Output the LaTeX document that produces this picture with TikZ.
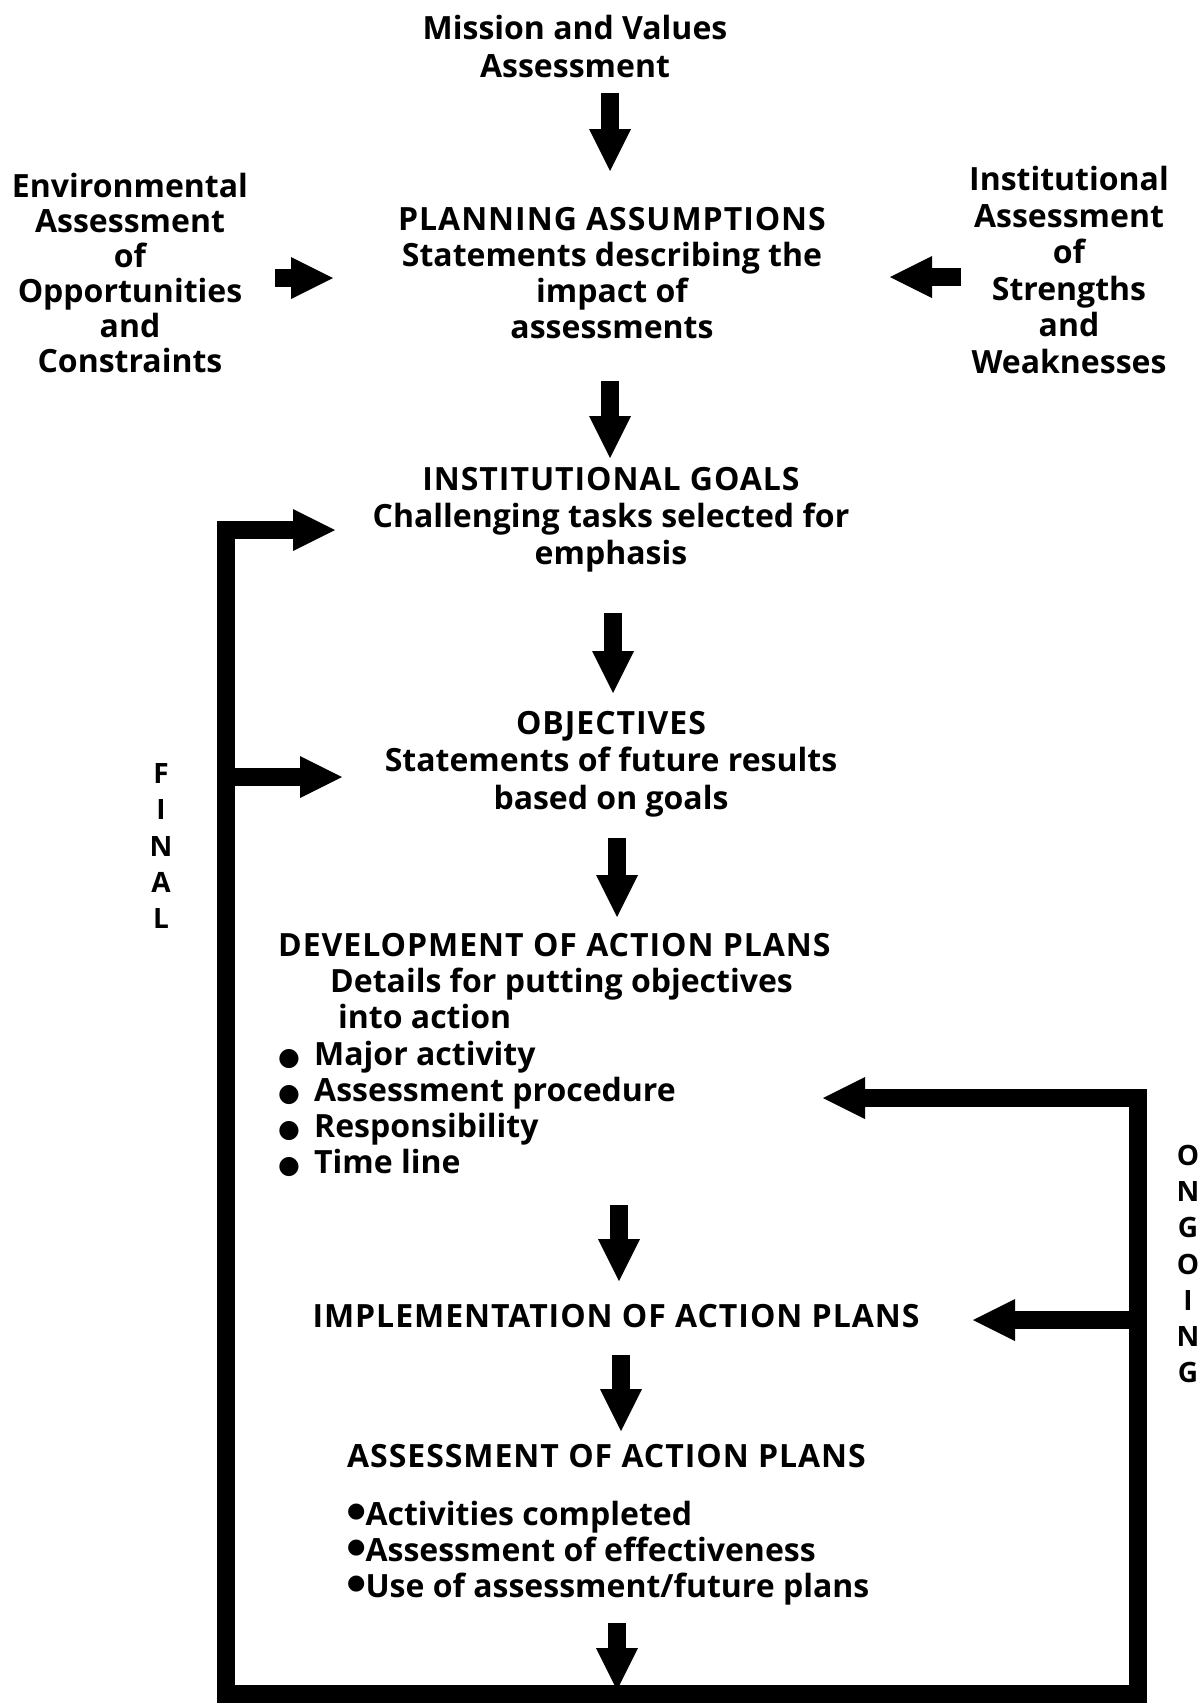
\documentclass[tikz,border=0pt]{standalone}
\usepackage{fontspec}
\setmainfont{Open Sans}
\newfontfamily\capsfont{Open Sans}[LetterSpace=3]
\newfontfamily\dejavu{DejaVu Sans}
\usetikzlibrary{arrows.meta}
\newcommand\bigdot{\makebox[36pt][l]{\dejavu\fontsize{25}{0}\selectfont ●}}
\newcommand\smalldot{\raisebox{8pt}{\dejavu\fontsize{21}{0}\selectfont ●}}
\newcommand\hd[1]{{\capsfont #1}}
\tikzset{
  txt/.style={inner sep=0pt, align=center, font=\fontsize{32}{36}\selectfont\bfseries},
  lefttxt/.style={inner sep=0pt, align=left, anchor=west, font=\fontsize{32}{36.2}\selectfont\bfseries},
  vlet/.style={inner sep=0pt, align=center, font=\fontsize{28}{36.2}\selectfont\bfseries},
  blk/.style={line width=18pt, line join=miter,
    -{Triangle[length=42pt,width=42pt,line width=0pt]}},
  loopln/.style={line width=18pt, line cap=rect},
}
\begin{document}
\begin{tikzpicture}[x=1pt,y=-1pt]
\useasboundingbox[fill=white] (0,0) rectangle (1203,1703);

\node[txt, font=\fontsize{32}{38}\selectfont\bfseries] (mission) at (575,46) {Mission and Values\\Assessment};
\node[txt] (pa) at (612,273) {\hd{PLANNING ASSUMPTIONS}\\Statements describing the\\impact of\\assessments};
\node[txt, font=\fontsize{32}{35}\selectfont\bfseries] (env) at (130,273) {Environmental\\Assessment\\of\\Opportunities\\and\\Constraints};
\node[txt, font=\fontsize{32}{36.6}\selectfont\bfseries] (inst) at (1069,270) {Institutional\\Assessment\\of\\Strengths\\and\\Weaknesses};
\node[txt, font=\fontsize{32}{37}\selectfont\bfseries] (goals) at (611,520) {\hd{INSTITUTIONAL GOALS}\\Challenging tasks selected for\\emphasis};
\node[txt, font=\fontsize{32}{37.5}\selectfont\bfseries] (obj) at (611,764) {\hd{OBJECTIVES}\\Statements of future results\\based on goals};
\node[lefttxt] (dev) at (278,1055) {\hd{DEVELOPMENT OF ACTION PLANS}\\
  \hspace*{52pt}Details for putting objectives\\
  \hspace*{60pt}into action\\
  \bigdot Major activity\\
  \bigdot Assessment procedure\\
  \bigdot Responsibility\\
  \bigdot Time line};
\node[txt] (impl) at (616,1316) {\hd{IMPLEMENTATION OF ACTION PLANS}};
\node[lefttxt] (assess) at (347,1525) {\hd{ASSESSMENT OF ACTION PLANS}\\[21pt]
  \smalldot Activities completed\\
  \smalldot Assessment of effectiveness\\
  \smalldot Use of assessment/future plans};

\node[vlet] (final) at (161,846) {F\\I\\N\\A\\L};
\node[vlet] (ongoing) at (1188,1264) {O\\N\\G\\O\\I\\N\\G};

\coordinate (bl) at (226,1694);
\coordinate (br) at (1138,1694);
\coordinate (bm) at (617,1694);

% main vertical flow
\draw[blk, shorten <=47pt, shorten >=102pt] ([xshift=35pt]mission.center) -- ([xshift=-2pt]pa.center);
\draw[blk, shorten <=108pt, shorten >=62pt] ([xshift=-2pt]pa.center) -- ([xshift=-1pt]goals.center);
\draw[blk, shorten <=93pt, shorten >=71pt] ([xshift=2pt]goals.center) -- ([xshift=2pt]obj.center);
\draw[blk, shorten <=74pt, shorten >=138pt] ([xshift=6pt]obj.center) -- ([xshift=6pt]obj.center |- dev.west);
\draw[blk, shorten <=150pt, shorten >=35pt] ([xshift=3pt]dev.west -| impl.center) -- ([xshift=3pt]impl.center);
\draw[blk, shorten <=39pt, shorten >=94pt] ([xshift=5pt]impl.center) -- ([xshift=5pt]impl.center |- assess.west);
\draw[blk, shorten <=98pt, shorten >=4pt] (assess.west -| bm) -- (bm);

% side inputs
\draw[blk, shorten <=145pt, shorten >=279pt] ([yshift=-5pt]env.center) -- ([yshift=-5pt]env.center -| pa.center);
\draw[blk, shorten <=108pt, shorten >=278pt] ([yshift=-7pt]inst.center) -- ([yshift=-7pt]inst.center -| pa.center);

% final loop
\draw[loopln] (bl) -- (br);
\draw[blk, shorten >=276pt] (bl) |- ([yshift=-10pt]goals.center);
\draw[blk, shorten >=269pt] (bl) |- ([yshift=-13pt]obj.center);

% ongoing loop
\draw[blk, shorten >=545pt] (br) |- ([yshift=-43pt]dev.west);
\draw[blk, shorten >=357pt] (br) |- ([yshift=-4pt]impl.center);
\end{tikzpicture}
\end{document}
